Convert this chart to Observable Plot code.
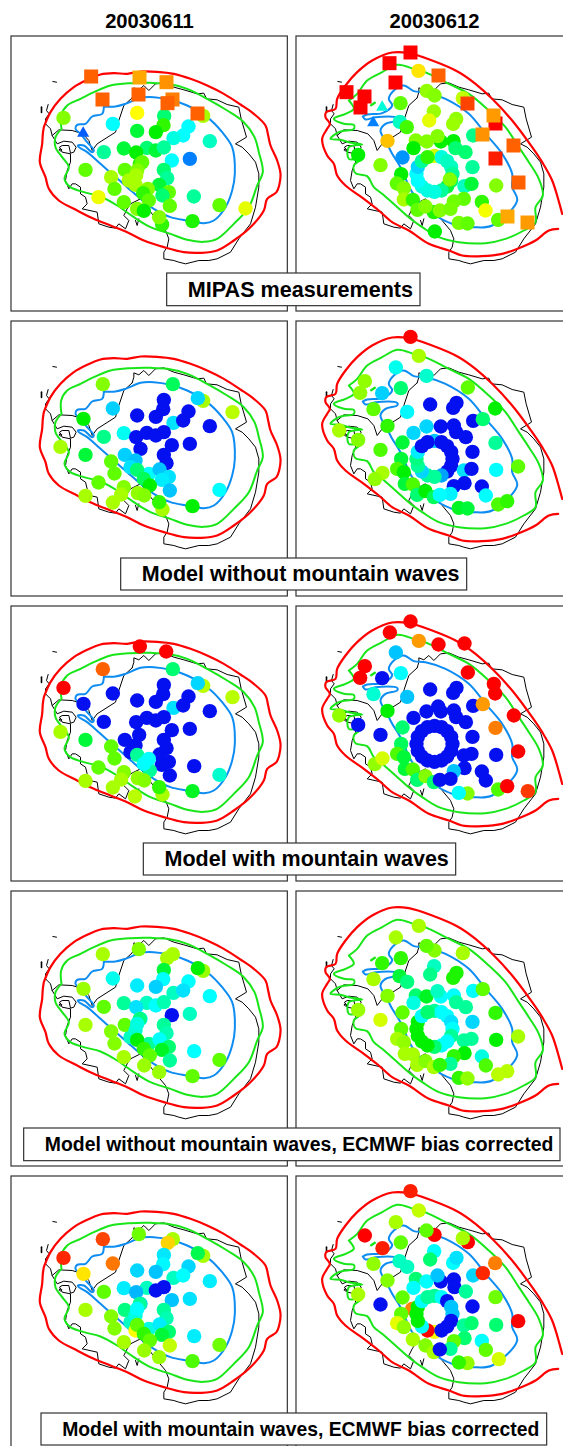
<!DOCTYPE html>
<html><head><meta charset="utf-8">
<script src="https://cdn.jsdelivr.net/npm/d3@7"></script>
<script src="https://cdn.jsdelivr.net/npm/@observablehq/plot@0.6"></script>
<style>html,body{margin:0;padding:0;background:#fff}svg{display:block}</style>
</head><body><div id="chart"></div>
<script>
const dates = ["20030611","20030612"];
const rowLabels = ["MIPAS measurements","Model without mountain waves","Model with mountain waves","Model without mountain waves, ECMWF bias corrected","Model with mountain waves, ECMWF bias corrected"];
const labelBoxes = [[500,1260,819,917],[362,1400,1674,1770],[430,1367,2529,2625],[71,1680,3384,3482],[123,1640,4239,4335]];
const labelSizes = [21.6,21.5,21.5,19.4,19.35];
const levels = [0,1,2,3,4,5,6,7,8,9,10,11,12];
const levelColors = ["#0410f0","#0080ff","#00c4ff","#00ffff","#00ffc0","#00ff70","#00f000","#60ff00","#a8ff00","#ffff00","#ffa800","#ff6000","#ff0000"];

const coast = [[395,202],[370,225],[355,270],[345,305],[290,340],[275,360],[265,330],[247,310],[215,300],[175,298],[155,315],[170,340],[190,332],[215,335],[227,350],[220,365],[210,368],[205,345],[185,345],[177,350],[185,365],[210,370],[210,395],[200,420],[195,450],[205,475],[215,460],[225,460],[240,470],[240,490],[255,500],[260,520],[245,535],[290,545],[295,580],[325,590],[345,593],[355,580],[375,595],[385,570],[370,555],[380,535],[390,520],[420,505],[470,570],[495,600],[505,625],[500,650],[490,665],[490,685],[520,690],[535,695],[555,700],[595,690],[625,690],[650,685],[690,665],[715,625],[750,580],[765,530],[775,470],[775,430],[765,395],[745,370],[725,350],[705,340],[738,320],[722,265],[715,230],[680,222],[650,208],[618,205],[610,188],[590,190],[550,178],[520,170],[490,157],[465,160],[445,180],[430,165],[415,178],[400,172],[400,185],[395,202]];
const coastIsland1 = [[157,153],[168,155]];
const coastIsland2 = [[123,230],[123,246]];
const coastIsland3 = [[143,222],[138,240],[146,250],[135,265],[135,280],[150,295],[155,315]];
const coastIsland4 = [[405,570],[410,585],[415,565]];
const coastIsland5 = [[176,358],[180,354],[184,358],[180,362],[176,358]];

const redLeft = [[130,290],[150,245],[180,205],[220,170],[260,148],[300,132],[340,128],[380,130],[420,123],[470,124],[520,130],[570,145],[620,165],[670,190],[720,222],[760,250],[795,285],[803,315],[810,345],[830,390],[840,430],[836,465],[828,485],[800,505],[790,540],[745,595],[700,630],[650,660],[600,667],[550,665],[490,650],[430,630],[380,605],[330,585],[280,565],[230,540],[175,510],[145,475],[135,440],[118,395],[125,340],[127,310],[130,290]];
const greenLeft = [[183,295],[182,255],[200,225],[240,205],[280,185],[330,165],[390,158],[450,157],[500,160],[560,175],[620,205],[680,240],[730,275],[762,320],[775,365],[787,425],[770,465],[745,530],[700,580],[650,625],[610,634],[560,628],[510,610],[450,590],[400,560],[350,525],[300,498],[250,485],[210,470],[192,445],[205,410],[185,380],[165,350],[165,320],[183,295]];
const blueLeft = [[310,228],[345,228],[375,220],[420,202],[460,200],[510,208],[560,225],[620,260],[665,305],[695,350],[703,430],[695,480],[675,530],[640,570],[610,578],[560,570],[510,560],[460,535],[420,505],[380,470],[340,435],[300,400],[260,365],[235,350],[232,345],[250,345],[275,365],[280,360],[260,335],[240,310],[225,295],[230,283],[255,280],[275,258],[305,250],[310,228]];
const redRight = [[818,595],[790,600],[750,630],[700,653],[650,670],[590,677],[530,675],[490,660],[430,640],[370,600],[320,575],[280,540],[235,505],[180,465],[155,435],[145,400],[125,375],[110,325],[125,295],[133,280],[120,260],[122,245],[150,235],[155,205],[180,165],[215,125],[260,90],[320,66],[370,68],[440,90],[520,125],[570,160],[620,205],[680,270],[740,350],[770,395],[800,450],[822,520],[830,550]];
const greenRight = [[190,210],[215,190],[245,150],[290,125],[335,103],[385,115],[430,130],[490,160],[550,190],[610,240],[660,290],[700,350],[730,395],[760,445],[772,495],[750,530],[750,575],[715,600],[660,625],[600,638],[520,635],[460,620],[410,590],[375,565],[330,525],[290,490],[265,470],[245,437],[210,428],[205,405],[228,385],[190,385],[190,350],[230,342],[190,335],[165,328],[135,325],[160,305],[205,295],[205,283],[175,280],[145,265],[180,250],[205,235],[190,210]];
const greenRightBlob = [[257,224],[268,217]];
const blueRight = [[232,258],[240,267],[270,260],[335,262],[335,270],[300,280],[285,300],[305,340],[320,370],[345,410],[380,485],[430,540],[500,580],[565,590],[620,585],[695,510],[680,470],[680,430],[650,370],[600,310],[550,250],[480,205],[420,185],[385,182],[355,165],[325,180],[310,205],[320,225],[290,248],[245,252],[232,258]];

const a1Dots = [[189,262,7.5],[337,280,3],[410,247,9],[491,256,5],[489,284,6.5],[410,301,5.5],[466,305,6],[564,288,3],[548,315,3],[519,323,3.5],[628,332,4],[608,256,8],[310,365,4.5],[370,354,5.5],[439,352,5],[466,360,5.5],[490,351,4.5],[407,366,6],[514,390,3],[568,385,1],[255,418,7],[418,400,6.5],[425,395,7],[373,418,7],[410,420,7.5],[490,418,5],[407,435,8],[500,443,4.5],[332,440,8],[385,450,8],[405,463,8],[476,463,5.5],[342,475,7],[442,475,7.5],[505,485,7],[428,488,6.5],[486,495,5],[445,510,7],[580,498,4.5],[370,515,7],[294,500,8.8],[508,526,7],[657,524,7],[735,534,8.7],[410,535,7.5],[430,541,6],[576,572,6.3],[485,582,6.5],[476,560,7.5]];
const a1Squares = [[272,138,11],[417,141,10],[498,155,10.3],[306,207,11],[414,192,11],[516,207,10.6],[501,218,11],[591,249,11]];
const a1Triangles = [[248,308,0.7]];
const ringA = [[447,376,8.5],[468,380,3.5],[485,392,4],[497,409,4],[501,430,4.5],[497,451,5],[485,468,5.5],[468,480,4.5],[447,484,3.5],[426,480,3.5],[409,468,3.5],[397,451,3],[393,430,3],[397,409,2.3],[409,392,4.5],[426,380,6.5]];
const a2Dots = [[399,121,9.3],[424,181,7.7],[447,195,7.5],[532,203,8.3],[345,218,7],[445,243,7.8],[431,270,8.7],[512,265,7.7],[503,280,7.8],[343,274,4],[364,290,6.7],[306,331,9.7],[563,315,4.7],[391,330,7.5],[466,333,6],[424,333,7.5],[456,317,7.5],[504,332,6],[384,353,6],[510,353,5],[540,365,5],[218,373,6],[351,381,1.3],[285,404,7.5],[561,410,4.5],[632,465,7.5],[537,467,4],[558,460,5.5],[493,447,7.5],[347,431,6],[334,459,7],[355,473,7.5],[355,507,8],[382,508,6.5],[535,505,7],[505,513,7.2],[589,514,6.5],[445,545,6.3],[396,538,7],[420,528,7.5],[463,540,7.5],[495,535,7.3],[600,540,8.9],[638,568,7],[520,577,7.3],[546,579,7],[448,603,6]];
const a2Squares = [[375,66,12],[312,98,12],[459,135,11],[330,156,12],[183,185,12],[237,198,12],[225,231,12],[546,219,11.3],[630,279,12],[624,255,10.2],[591,312,10.3],[684,345,11],[630,384,11.7],[699,456,11],[666,558,10],[726,576,10.2]];
const a2Triangles = [[290,230,3.6],[263,277,1]];

const b1Dots = [[307,206,7.5],[517,206,5.2],[608,256,8],[592,248,2.3],[696,290,8.2],[490,253,0],[488,281,0],[337,279,2.2],[410,300,0],[466,304,0],[564,288,0],[519,322,2.5],[548,315,0],[628,332,0],[249,310,6],[310,364,4.7],[370,353,3.2],[407,365,0],[439,352,0],[466,360,0],[490,350,0],[514,389,0],[568,385,0],[420,400,0],[180,394,8],[255,418,5.5],[373,418,2.2],[490,418,0],[498,443,0],[405,435,2],[390,455,2.5],[332,438,7],[342,474,7],[445,475,3],[410,463,5],[477,462,2],[505,484,2.5],[484,493,2.7],[430,490,5.2],[448,510,6],[294,501,7],[508,525,2],[657,523,3],[370,515,7.5],[362,537,8],[412,533,7.7],[431,540,7.5],[255,541,8],[337,561,8],[486,582,8],[476,560,6.5],[576,572,6]];
const ringB = [[447,376,2],[468,380,0],[485,392,0],[497,409,0],[501,430,0],[497,451,0],[485,468,0],[468,480,1.5],[447,484,4.5],[426,480,4.5],[409,468,2.3],[397,451,4.5],[393,430,4.8],[397,409,2.7],[409,392,0],[426,380,0]];
const b2Dots = [[375,64,12],[400,121,8],[331,156,3.3],[423,181,3.8],[238,197,7.7],[224,232,7.7],[346,218,5],[547,216,7],[290,233,2.2],[264,281,7],[365,289,2.9],[434,267,0],[513,262,0],[503,277,0],[629,279,6],[563,316,0],[592,311,5],[306,331,6.5],[161,345,8],[218,373,7.5],[423,333,2.3],[384,352,2.3],[466,333,0],[505,330,0],[512,350,0],[541,365,0],[351,381,5.5],[630,382,4.5],[285,403,6.8],[561,409,0],[347,430,5.5],[335,460,6.8],[355,470,6],[535,465,2.5],[558,460,0],[632,463,3],[698,453,7],[537,503,0],[505,512,0],[589,513,0],[601,540,3],[291,472,8],[268,491,7.7],[358,505,5.5],[382,507,6.8],[395,538,5],[420,527,6],[445,545,5.2],[495,535,2.8],[463,538,3],[638,567,6.8],[665,557,6.5],[520,577,5.7],[546,579,5.5]];

const c1Dots = [[418,138,12],[497,153,12],[307,206,11],[517,206,5],[189,262,12],[608,256,8.2],[592,248,2.3],[696,290,8.2],[490,253,0],[488,281,0],[337,279,0],[410,300,0],[466,304,0],[564,288,0],[519,322,2.5],[548,315,0],[628,332,0],[249,310,0],[310,364,0],[407,365,0],[439,352,0],[466,360,0],[490,350,0],[514,389,0],[568,385,0],[416,403,0],[180,394,8],[255,418,5.5],[373,418,0],[490,418,0],[498,443,0],[405,435,0],[390,455,0],[332,438,7],[342,474,7],[477,462,0],[505,484,0],[484,493,0],[410,463,4.5],[448,510,4.5],[445,475,3],[430,490,3],[294,501,7],[508,525,0],[581,497,0],[657,523,3.8],[370,515,7.5],[362,537,8],[412,533,7.7],[431,540,7.5],[255,541,8],[337,561,8],[403,588,8.2],[486,582,8],[476,560,6.5],[576,572,5.7]];
const ringC = [[447,376,0],[468,380,0],[485,392,0],[497,409,0],[501,430,0],[497,451,0],[485,468,0],[468,480,0],[447,484,0],[426,480,0],[409,468,0],[397,451,0],[393,430,0],[397,409,0],[409,392,0],[426,380,0]];
const c2Dots = [[375,63,12],[313,96,12],[400,121,10.2],[459,132,12],[537,129,12],[331,156,2],[346,218,3],[238,197,12],[224,232,12],[290,233,0],[547,216,12],[264,281,3.7],[365,289,2],[434,267,0],[513,262,0],[503,277,0],[625,250,12],[629,279,12],[563,316,0],[592,311,10.2],[306,331,6],[161,345,7.7],[218,373,0],[423,333,0],[384,352,0],[458,318,0],[466,333,0],[505,330,0],[512,350,0],[541,365,0],[351,381,5],[630,382,10.6],[685,345,12],[285,403,0],[561,409,0],[347,430,5.2],[335,460,6.8],[355,470,5.5],[358,505,5.5],[558,460,0],[535,465,0],[632,463,0],[698,453,12],[537,503,0],[505,512,2],[589,513,0],[601,540,0],[268,491,7.7],[291,474,8.5],[382,507,6.8],[395,538,5],[420,527,7.5],[445,545,5],[463,538,0],[495,535,0],[638,567,6.8],[665,557,12],[546,579,7.5],[520,577,3],[727,572,11.4]];

const d1Dots = [[307,206,8],[415,191,7.5],[517,206,8],[500,218,8],[608,256,7.8],[592,248,6],[490,253,5.5],[488,281,3],[337,279,3.3],[410,300,2.7],[466,304,2.2],[564,288,3],[519,322,4],[548,315,2.5],[628,332,3],[249,310,7.8],[310,364,7],[370,353,4.5],[439,352,4],[466,360,3],[407,365,2.5],[490,350,4.2],[514,389,0],[568,385,4],[420,400,3],[418,400,4.8],[255,418,8],[390,455,4],[373,418,7],[490,418,4.5],[498,443,4.2],[405,435,3.7],[410,415,3.5],[332,438,7.5],[342,474,7.5],[445,475,4.5],[410,463,6],[477,462,3],[505,484,5],[484,493,5.7],[430,490,6.5],[448,510,7],[508,525,4.5],[581,497,3],[657,523,7],[370,515,8],[431,540,7.8],[476,560,7.8],[576,572,7]];
const ringD = [[447,376,4.5],[468,380,3],[485,392,3],[497,409,2.5],[501,430,3],[497,451,4.5],[485,468,3],[468,480,3],[447,484,5],[426,480,6],[409,468,6],[397,451,6],[393,430,6],[397,409,6],[409,392,3],[426,380,5]];
const d2Dots = [[400,121,8],[331,156,8],[447,195,7.5],[423,181,7],[532,203,8],[346,218,6.5],[290,233,6.5],[446,242,4],[434,267,4.7],[503,277,6.3],[513,262,6.3],[342,272,5.5],[365,289,4.8],[264,281,8],[563,316,3],[592,311,7],[306,331,7.5],[218,373,7.8],[391,330,5],[423,333,5.7],[466,333,3],[456,317,4],[505,330,3],[512,350,4.5],[541,365,4.5],[384,352,3.5],[351,381,7],[630,382,6.5],[285,403,8.5],[561,409,2.3],[347,430,7],[335,460,8],[355,470,7.7],[535,465,4.5],[558,460,4.5],[632,463,6],[698,453,8],[537,503,6],[505,512,6.5],[589,513,3.5],[601,540,6.8],[358,505,8],[382,507,8],[395,538,8],[420,527,7.5],[445,545,8],[495,535,4.5],[463,538,6.5],[638,567,8.2],[665,557,8.2],[520,577,6.5],[546,579,7.7]];

const e1Dots = [[189,262,11.6],[307,206,11.3],[415,191,7.2],[517,206,8],[502,217,9.5],[608,256,8],[592,248,5.3],[490,253,2.6],[488,281,2.9],[337,279,10.7],[410,300,2.3],[466,304,2],[564,288,2.3],[519,322,4],[548,315,3],[628,332,2.7],[249,310,9.3],[310,364,7],[370,353,2.7],[439,352,4],[407,365,1.8],[466,360,0],[490,350,0],[514,389,2],[568,385,2.5],[420,400,2],[418,400,4.5],[255,418,8],[390,455,4],[373,418,4.8],[490,418,4.5],[498,443,4.2],[405,435,3.5],[410,415,3],[332,438,7.5],[342,474,7.5],[405,480,9],[445,475,3.5],[410,463,7],[477,462,2.7],[505,484,5],[484,493,5.5],[430,490,6.5],[448,510,7],[508,525,8.3],[581,497,2.7],[657,523,7.2],[370,515,8],[431,540,7.8],[476,560,7.8],[576,572,6.8]];
const ringE = [[380,415,10.5],[447,376,4.5],[468,380,3],[485,392,0],[497,409,2],[501,430,2],[497,451,0],[485,468,0],[447,484,9],[426,480,12],[468,480,0],[409,468,3],[397,451,6],[393,430,6],[397,409,6],[409,392,3],[426,380,4.5]];
const e2Dots = [[375,62,11.7],[400,120,8.3],[331,155,8],[238,195,12],[291,233,11.7],[346,216,7],[447,193,12],[423,180,7],[547,215,12],[532,203,8],[446,242,3],[434,267,5],[503,277,3],[513,262,2.5],[365,289,4],[342,272,4],[264,280,7.7],[629,278,10.6],[563,315,2.3],[592,308,11.6],[306,330,7.5],[218,372,8],[391,325,5],[466,333,0],[423,333,3],[456,315,2],[505,327,0],[507,350,0],[541,363,4.5],[384,352,3],[351,381,7],[630,380,7.2],[285,402,0],[561,408,0],[698,452,12],[347,430,7],[335,458,8.7],[355,470,7.7],[535,465,4.5],[558,458,5],[632,463,5],[537,503,5],[505,512,7],[589,511,3],[601,538,7],[382,507,8],[420,525,7.5],[445,545,8],[495,535,4.5],[463,537,0],[640,566,8.5],[546,578,7.7],[520,576,6.5]];

const dotSets = [[a1Dots,[...ringA,...a2Dots]],[b1Dots,[...ringB,...b2Dots]],[c1Dots,[...ringC,...c2Dots]],[d1Dots,[...ringD,...d2Dots]],[e1Dots,[...ringE,...e2Dots]]];
const colStep = 855, rowStep = 855, rowStart = 90;
const place = (pts, c, r) => pts.map(([x,y,v]) => ({x: x + c*colStep, y: y + rowStart + r*rowStep, v}));

const marks = [];
const lineOf = (pts,c,r,stroke,strokeWidth,curve) => Plot.line(place(pts,c,r), {x:"x", y:"y", stroke:()=>stroke, strokeWidth, curve, strokeLinejoin:"round"});
for (let r = 0; r < 5; r++) for (let c = 0; c < 2; c++) {
  const x1 = 33 + c*colStep, y1 = 18 + rowStart + r*rowStep;
  marks.push(Plot.rect([{x1, x2:x1+829, y1, y2:y1+825}], {x1:"x1",x2:"x2",y1:"y1",y2:"y2",fill:"none",stroke:"#333",strokeWidth:1.2}));
  for (const part of [coast,coastIsland1,coastIsland3,coastIsland4,coastIsland5]) marks.push(Plot.line(place(part,c,r),{x:"x",y:"y",stroke:"#000",strokeWidth:1,curve:"linear"}));
  marks.push(Plot.line(place(coastIsland2,c,r),{x:"x",y:"y",stroke:"#000",strokeWidth:1.6}));
  marks.push(lineOf(c? blueRight:blueLeft,c,r,"#0d8cf2",2,"catmull-rom"));
  marks.push(lineOf(c? greenRight:greenLeft,c,r,"#18e618",2,"catmull-rom"));
  if (c) marks.push(lineOf(greenRightBlob,c,r,"#18e618",2.4,"linear"));
  marks.push(lineOf(c? redRight:redLeft,c,r,"#ff0000",2.2,"catmull-rom"));
  marks.push(Plot.dot(place(dotSets[r][c],c,r),{x:"x",y:"y",r:7.2,fill:"v"}));
}
marks.push(Plot.dot(place(a1Squares,0,0),{x:"x",y:"y",r:7.9,symbol:"square",fill:"v"}));
marks.push(Plot.dot(place(a2Squares,1,0),{x:"x",y:"y",r:7.9,symbol:"square",fill:"v"}));
marks.push(Plot.dot(place(a1Triangles,0,0),{x:"x",y:"y",r:4.5,symbol:"triangle",fill:"v"}));
marks.push(Plot.dot(place(a2Triangles,1,0),{x:"x",y:"y",r:4.5,symbol:"triangle",fill:"v"}));
labelBoxes.forEach(([x1,x2,y1,y2],i) => {
  marks.push(Plot.rect([{x1,x2,y1,y2}],{x1:"x1",x2:"x2",y1:"y1",y2:"y2",fill:"#fff",stroke:"#333",strokeWidth:1.2}));
  marks.push(Plot.text([rowLabels[i]],{x:x1+62,y:(y1+y2)/2,text:d=>d,textAnchor:"start",fontSize:labelSizes[i],fontWeight:"bold",fontFamily:"Liberation Sans",fill:"#000"}));
});
marks.push(Plot.text(dates,{x:(d,i)=>447+i*colStep,y:63,text:d=>d,fontSize:20.2,fontWeight:"bold",fontFamily:"Liberation Sans",fill:"#000"}));

const chart = Plot.plot({
  width:563,height:1446,margin:0,
  style:{background:"#fff"},
  x:{domain:[0,1689],axis:null},
  y:{domain:[0,4338],reverse:true,axis:null},
  color:{type:"linear",domain:levels,range:levelColors,clamp:true,legend:false},
  marks
});
document.getElementById("chart").appendChild(chart);
</script></body></html>
